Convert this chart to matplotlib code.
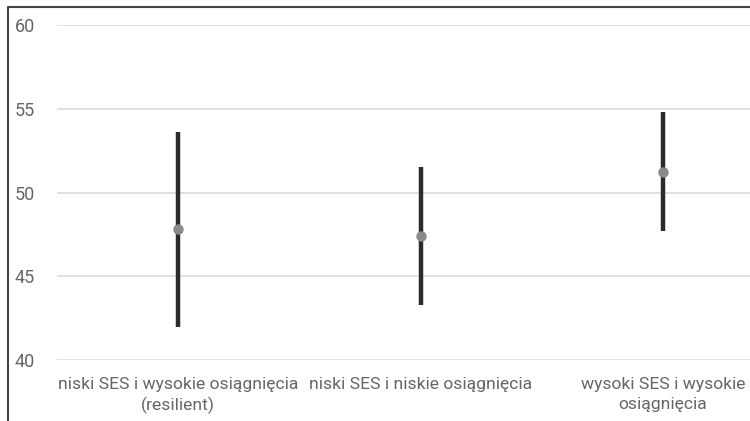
import matplotlib.pyplot as plt
from matplotlib.lines import Line2D
import numpy as np

plt.rcParams['font.family'] = ['Roboto', 'DejaVu Sans']

# groups and values
categories = ['niski SES i wysokie osiągnięcia\n(resilient)',
              'niski SES i niskie osiągnięcia',
              'wysoki SES i wysokie\nosiągnięcia']
means = [47.8, 47.4, 51.2]
lower = [42.0, 43.3, 47.7]
upper = [53.6, 51.5, 54.8]
yticks = [40, 45, 50, 55, 60]

fig = plt.figure(figsize=(7.5, 4.21), dpi=100)
ax = fig.add_axes([57/750, 61/421, 727/750, 335/421])

x = np.arange(len(categories))
means = np.array(means)
err = [means - np.array(lower), np.array(upper) - means]

ax.errorbar(x, means, yerr=err, fmt='none', ecolor='#2b2b2b', elinewidth=3.2,
            capsize=0, zorder=3)
ax.plot(x, means, 'o', color='#8a8a8a', markersize=6.5, zorder=4)

ax.set_xlim(-0.5, 2.5)
ax.set_ylim(40, 60)
ax.set_yticks(yticks)
ax.set_xticks(x)
ax.set_xticklabels(categories, fontsize=12.6, color='#666666', linespacing=1.35)
ax.tick_params(axis='y', length=0, pad=16, labelsize=13, labelcolor='#666666')
ax.tick_params(axis='x', length=0, pad=12.5)
ax.grid(axis='y', color='#dcdcdc', linewidth=1.2)
ax.set_axisbelow(True)
for s in ax.spines.values():
    s.set_visible(False)

# frame of the original picture (cropped at right and bottom)
fig.add_artist(Line2D([8/750, 8/750, 1], [0, 1 - 7/421, 1 - 7/421],
                      transform=fig.transFigure, color='#444444', linewidth=1.5))

fig.savefig('out.png', dpi=100)
